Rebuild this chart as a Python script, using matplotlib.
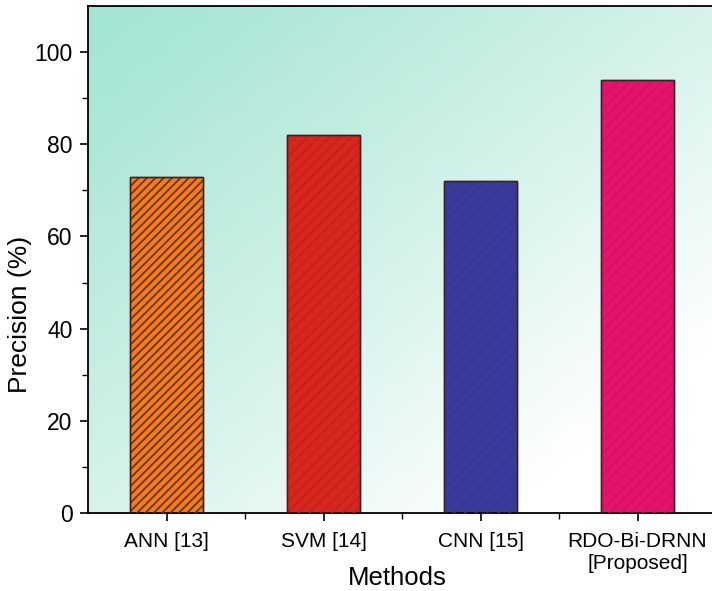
import numpy as np
import matplotlib
matplotlib.use('Agg')
import matplotlib.pyplot as plt
from matplotlib.colors import LinearSegmentedColormap

methods = ['ANN [13]', 'SVM [14]', 'CNN [15]', 'RDO-Bi-DRNN\n[Proposed]']
precision = [73, 82, 72, 94]
bar_colors = ['#F27C22', '#D8261F', '#383A9C', '#E4146C']
hatch_colors = ['#6E3410', '#C42019', '#35378F', '#D31163']
hatches = ['////', '///', '///', '///']

plt.rcParams['font.family'] = ['Liberation Sans', 'DejaVu Sans']
plt.rcParams['hatch.linewidth'] = 1.3

fig = plt.figure(figsize=(7.12, 5.91), dpi=100)
ax = fig.add_axes([88 / 712, 78 / 591, 628 / 712, 507 / 591])

# diagonal gradient background, teal top-left to white bottom-right
gx, gy = np.meshgrid(np.linspace(0, 1, 300), np.linspace(0, 1, 300))
t = (gx + (1 - gy)) / 2
t = np.clip(t * 1.2, 0, 1) ** 1.25
cmap = LinearSegmentedColormap.from_list('bg', ['#A4E5D3', '#D4F2EA', '#FFFFFF'])
ax.imshow(t, cmap=cmap, extent=[0, 1, 1, 0], transform=ax.transAxes,
          aspect='auto', zorder=0, interpolation='bilinear')

x = np.arange(len(methods))
ax.bar(x, precision, width=0.46, color=bar_colors, edgecolor='#3a2020',
       linewidth=1.0, zorder=2)
for xi, v, hc, h in zip(x, precision, hatch_colors, hatches):
    ax.bar(xi, v, width=0.46, fill=False, hatch=h, edgecolor=hc,
           linewidth=0, zorder=3)
ax.bar(x, precision, width=0.46, fill=False, edgecolor='#3a2020',
       linewidth=1.0, zorder=4)

ax.set_xlim(-0.5, 3.5)
ax.set_ylim(0, 110)
ax.set_yticks([0, 20, 40, 60, 80, 100])
ax.set_yticks([10, 30, 50, 70, 90], minor=True)
ax.set_xticks(x)
ax.set_xticklabels(methods)
ax.set_xticks([0.5, 1.5, 2.5], minor=True)
ax.tick_params(axis='both', which='major', direction='out', length=6,
               width=1.2)
ax.tick_params(axis='both', which='minor', direction='out', length=4,
               width=1.0)
ax.tick_params(axis='x', labelsize=15, pad=8)
ax.tick_params(axis='y', labelsize=16.5, pad=5)

for s in ['left', 'bottom', 'top']:
    ax.spines[s].set_linewidth(1.3)
ax.spines['right'].set_visible(False)

ax.set_xlabel('Methods', fontsize=18.5)
ax.xaxis.set_label_coords(0.492, -0.128)
ax.xaxis.label.set_va('center')
ax.set_ylabel('Precision (%)', fontsize=19)
ax.yaxis.set_label_coords(-0.108, 0.392)
ax.yaxis.label.set_va('center')

fig.savefig('out.png', dpi=100)
